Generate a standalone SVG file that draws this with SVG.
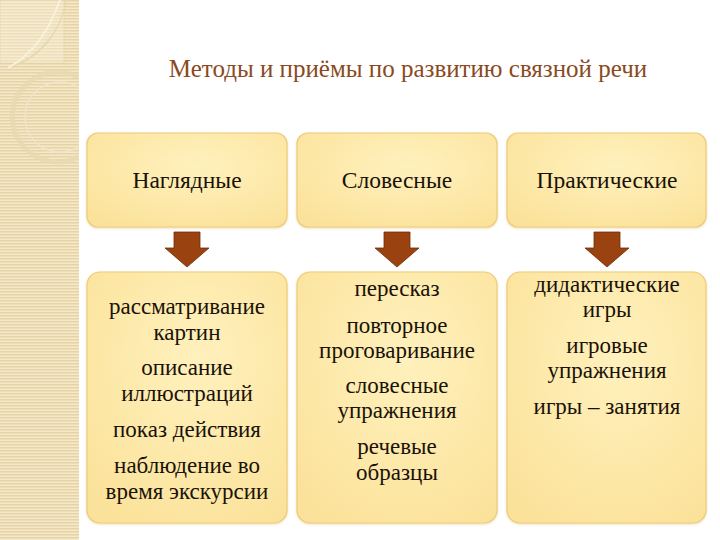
<svg xmlns="http://www.w3.org/2000/svg" width="720" height="540" viewBox="0 0 720 540">
<defs>
<pattern id="stripes" width="6" height="3" patternUnits="userSpaceOnUse">
<rect width="6" height="3" fill="#F4E9CB"/>
<rect width="6" height="1.5" fill="#E6D4A6"/>
</pattern>
<radialGradient id="boxfill" cx="0.55" cy="0.35" r="0.75">
<stop offset="0" stop-color="#FFF1BD"/>
<stop offset="1" stop-color="#FBE29A"/>
</radialGradient>
<filter id="sh" x="-10%" y="-10%" width="120%" height="120%">
<feDropShadow dx="0" dy="1" stdDeviation="1.2" flood-color="#C9A24A" flood-opacity="0.35"/>
</filter>
<path id="arrow" d="M-13,0 H13 V16 H22 L0,35 L-22,16 H-13 Z"/>
</defs>
<style>
.box{fill:url(#boxfill);stroke:#EFCB78;stroke-width:1.2;filter:url(#sh)}
.arr{fill:#9A4210;stroke:#6E2E08;stroke-width:0.8}
.t{fill:#1a1208;text-anchor:middle}
.h{font-size:23.5px}
.b{font-size:23px}
.title{font-size:25px;fill:#8A4A1E;text-anchor:middle}
.deco{fill:none;stroke:#F8F1DC;stroke-width:2}
</style>
<rect width="720" height="540" fill="#FFFFFF"/>
<rect x="0" y="0" width="79" height="540" fill="url(#stripes)"/>
<g id="decoration">
<rect x="0" y="0" width="64" height="63" fill="#F9F2DE" opacity="0.35" stroke="#E2D1A6" stroke-width="1"/>
<path d="M12,66 C40,58 62,30 66,0" fill="none" stroke="#E6D6AC" stroke-width="1.2"/>
<path d="M8,68 C36,52 50,28 60,0" class="deco"/>
<path d="M78,77 A45,45 0 1 0 78,157" fill="none" stroke="#E7D8B0" stroke-width="5" opacity="0.8"/>
<path d="M78,87 A35,35 0 1 0 78,147" fill="none" stroke="#EFE5C8" stroke-width="1.5"/>
</g>
<g font-family="'Liberation Serif', 'Times New Roman', serif">
<text class="title" x="408" y="77">Методы и приёмы по развитию связной речи</text>
<g id="node-naglyadnye">
<rect class="box" x="87" y="133" width="200" height="94" rx="11"/>
<text class="t h" x="187" y="188">Наглядные</text>
</g>
<g id="node-slovesnye">
<rect class="box" x="297" y="133" width="200" height="94" rx="11"/>
<text class="t h" x="397" y="188">Словесные</text>
</g>
<g id="node-prakticheskie">
<rect class="box" x="507" y="133" width="199" height="94" rx="11"/>
<text class="t h" x="607" y="188">Практические</text>
</g>
<g id="node-naglyadnye-list">
<rect class="box" x="87" y="272" width="200" height="251" rx="13"/>
<text class="t b" x="187" y="314">рассматривание</text>
<text class="t b" x="187" y="340">картин</text>
<text class="t b" x="187" y="375">описание</text>
<text class="t b" x="187" y="401">иллюстраций</text>
<text class="t b" x="187" y="437">показ действия</text>
<text class="t b" x="187" y="473">наблюдение во</text>
<text class="t b" x="187" y="499">время экскурсии</text>
</g>
<g id="node-slovesnye-list">
<rect class="box" x="297" y="272" width="200" height="251" rx="13"/>
<text class="t b" x="397" y="296">пересказ</text>
<text class="t b" x="397" y="333">повторное</text>
<text class="t b" x="397" y="358">проговаривание</text>
<text class="t b" x="397" y="393">словесные</text>
<text class="t b" x="397" y="418">упражнения</text>
<text class="t b" x="397" y="454">речевые</text>
<text class="t b" x="397" y="480">образцы</text>
</g>
<g id="node-prakticheskie-list">
<rect class="box" x="507" y="272" width="199" height="251" rx="13"/>
<text class="t b" x="607" y="292">дидактические</text>
<text class="t b" x="607" y="317">игры</text>
<text class="t b" x="607" y="353">игровые</text>
<text class="t b" x="607" y="378">упражнения</text>
<text class="t b" x="607" y="414">игры – занятия</text>
</g>
</g>
<g id="connectors">
<use href="#arrow" class="arr" transform="translate(187,232)"/>
<use href="#arrow" class="arr" transform="translate(397,232)"/>
<use href="#arrow" class="arr" transform="translate(607,232)"/>
</g>
</svg>
